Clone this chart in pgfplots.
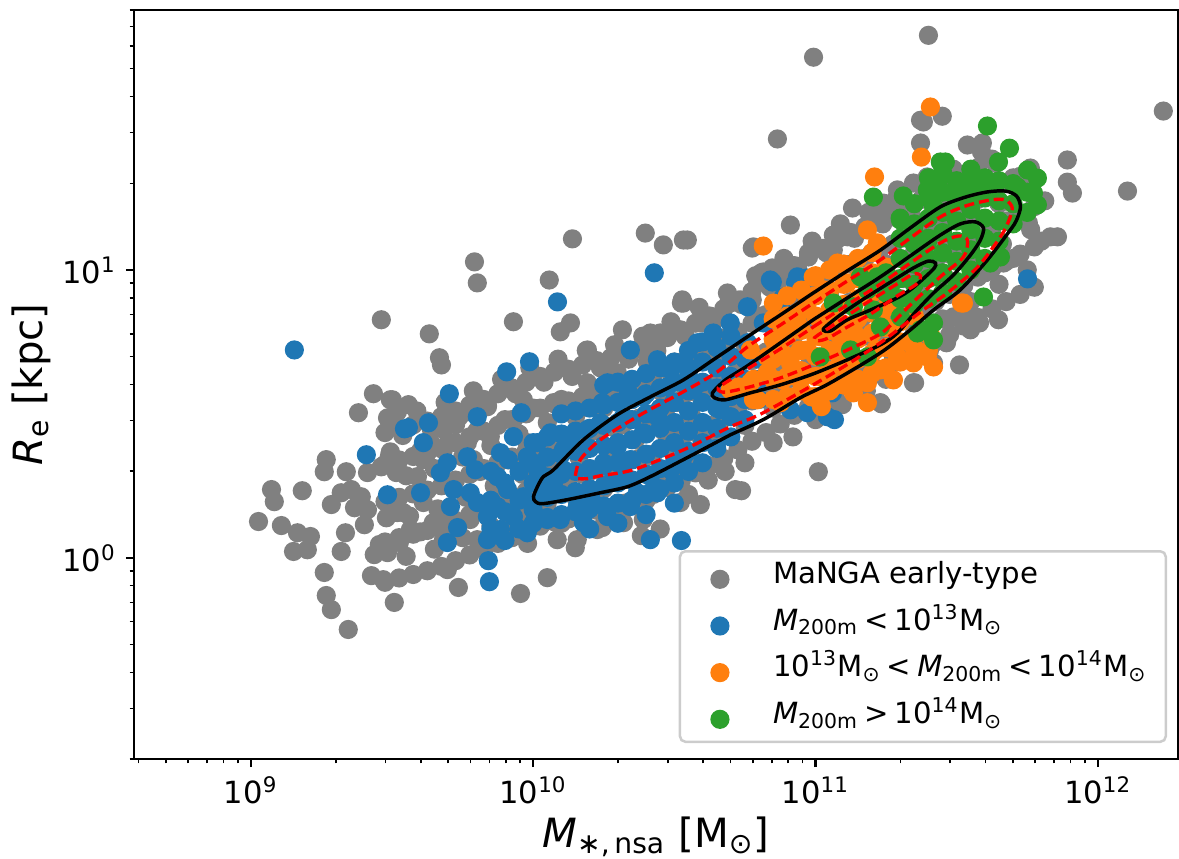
\documentclass[border=0pt]{standalone}
\usepackage{fontspec}
\setmainfont{DejaVu Sans}
\usepackage{pgfplots}
\pgfplotsset{compat=1.18}
\definecolor{mgray}{HTML}{808080}
\definecolor{mblue}{HTML}{1F77B4}
\definecolor{morange}{HTML}{FF7F0E}
\definecolor{mgreen}{HTML}{2CA02C}
\newcommand{\rel}[1]{\hspace{0.2em}#1\hspace{0.2em}}
\newcommand{\msun}{M\textsubscript{⊙}}
\begin{document}
\begin{tikzpicture}
\begin{axis}[
  scale only axis, width=375.84pt, height=269.64pt,
  xmin=8.586, xmax=12.284, ymin=-0.699, ymax=1.903,
  clip marker paths=true,
  axis line style={line width=0.75pt},
  xtick={9,10,11,12},
  xticklabels={10\textsuperscript{9},10\textsuperscript{10},10\textsuperscript{11},10\textsuperscript{12}},
  minor xtick={8.602,8.699,8.778,8.845,8.903,8.954,9.301,9.477,9.602,9.699,9.778,9.845,9.903,9.954,10.301,10.477,10.602,10.699,10.778,10.845,10.903,10.954,11.301,11.477,11.602,11.699,11.778,11.845,11.903,11.954},
  ytick={0,1},
  yticklabels={10\textsuperscript{0},10\textsuperscript{1}},
  minor ytick={-0.699,-0.523,-0.398,-0.301,-0.222,-0.155,-0.097,-0.046,0.301,0.477,0.602,0.699,0.778,0.845,0.903,0.954,1.301,1.477,1.602,1.699,1.778,1.845,1.903},
  xtick pos=bottom, ytick pos=left,
  tick align=outside, major tick length=2.9pt, minor tick length=1.6pt,
  major tick style={line width=0.75pt,black}, minor tick style={line width=0.55pt,black},
  ticklabel style={font=\fontsize{11}{13}\selectfont},
  xlabel={\textit{M}\textsubscript{∗,\,nsa} [\msun]},
  ylabel={\textit{R}\textsubscript{e} [kpc]},
  xlabel style={at={(axis description cs:0.5,-0.1187)}, anchor=base, font=\fontsize{14.5}{17}\selectfont},
  ylabel style={at={(axis description cs:-0.0873,0.5)}, anchor=base, font=\fontsize{14.5}{17}\selectfont},
  legend style={at={(rel axis cs:0.9895,0.0213)}, anchor=south east,
    draw=black!20, line width=0.9pt, fill=white, rounded corners=2pt,
    font=\fontsize{10.5}{12.6}\selectfont,
    inner xsep=6.8pt, inner ysep=3.6pt, row sep=5.8pt, column sep=0pt,
    nodes={inner sep=0pt, text height=8pt, text depth=3pt}},
  legend cell align=left,
  legend image code/.code={\draw[#1] plot coordinates {(0pt,-1pt)}; \path[draw=none,fill=none] (-7.6pt,0pt) -- (19.1pt,0pt);},
]
% ---------------- gray: MaNGA early-type ----------------
\addplot[only marks, mark=*, mark size=3.2pt, line width=0.5pt, color=mgray] coordinates {
(11.400,1.815) (10.993,1.739) (12.232,1.552) (10.865,1.455) (11.892,1.382) (12.105,1.274) (11.892,1.305) (11.910,1.267) (11.857,1.115) (11.754,1.163) (11.832,1.115) (11.761,1.354) (11.591,1.441) (11.538,1.434) (11.449,1.534) (11.372,1.520) (11.372,1.441) (11.666,1.024) (11.648,0.827) (11.549,0.792) (11.489,0.837)
(9.462,0.827) (9.434,0.570) (9.501,0.549) (9.381,0.504) (9.484,0.486) (9.267,0.341) (9.260,0.299) (9.338,0.299) (9.491,0.355) (9.413,0.296) (9.462,0.316) (9.515,0.296) (9.073,0.237) (9.083,0.195) (9.182,0.233) (9.285,0.185) (9.320,0.226) (9.356,0.237) (9.391,0.212) (9.367,0.174) (9.413,0.167) (9.402,0.115) (9.480,0.139) (9.519,0.157) (9.027,0.126) (9.108,0.112) (9.165,0.087) (9.211,0.074) (9.151,0.022) (9.200,0.028) (9.335,0.087) (9.320,0.022) (9.455,0.046) (9.437,0.011) (9.484,0.018) (9.526,0.053) (9.260,-0.051) (9.267,-0.131) (9.285,-0.180) (9.427,-0.062) (9.469,-0.076) (9.508,-0.155) (9.345,-0.249)
(10.139,1.108) (10.397,1.128) (10.461,1.087) (10.532,1.104) (9.792,1.028) (9.802,0.955) (10.057,0.965) (9.930,0.820) (10.132,0.816) (10.096,0.785) (9.632,0.778) (9.668,0.695) (9.675,0.670) (10.192,0.722) (10.316,0.792) (10.415,0.781) (10.450,0.781) (10.525,0.885) (10.521,0.792) (10.249,0.663) (10.298,0.643) (10.192,0.608) (10.220,0.559) (10.404,0.681) (9.494,0.549) (9.558,0.532) (9.519,0.507) (9.767,0.507) (9.838,0.525) (9.965,0.549) (10.072,0.539) (10.132,0.539) (9.930,0.480) (9.725,0.462) (9.682,0.445) (9.494,0.368) (9.519,0.330) (9.611,0.341) (9.590,0.282) (9.636,0.400) (9.813,0.445) (9.848,0.421) (9.767,0.400) (9.682,0.375) (9.788,0.341) (9.979,0.400) (10.015,0.330) (10.050,0.306) (9.494,0.192) (9.540,0.157) (9.611,0.192) (9.646,0.122) (9.565,0.098) (9.682,0.063) (9.777,0.133) (9.802,0.063) (9.894,0.098) (9.954,0.157) (10.036,0.122) (10.085,0.063) (10.156,0.063) (10.227,0.098) (10.320,0.122) (10.390,0.133) (10.521,0.192) (10.521,0.400) (10.486,0.445) (10.390,0.490)
(11.382,1.514) (11.131,1.215) (10.911,1.156) (10.546,1.104) (10.780,1.080) (10.975,1.059) (10.815,0.993) (10.929,1.010) (10.794,0.965) (10.865,0.955) (10.734,0.896) (10.698,0.885) (10.532,0.885) (10.638,0.827) (10.592,0.816) (10.557,0.747) (11.113,1.115) (11.063,1.069) (11.205,1.184) (11.241,1.232) (11.290,1.278) (11.347,1.302) (11.396,1.323) (11.276,1.184) (11.347,0.608) (11.230,0.539) (11.418,0.677)
(10.776,1.076) (10.847,1.007) (10.808,0.990) (10.798,0.962) (10.528,0.896) (10.695,0.896) (10.776,0.896) (11.063,1.121)
(11.351,0.608) (11.510,0.670) (11.581,0.816) (11.528,0.861) (11.464,0.747) (11.404,0.722) (11.276,0.698) (11.148,0.663) (11.085,0.608)
(9.696,-0.041) (9.735,-0.103) (9.955,-0.124) (10.050,-0.069) (10.149,0.035) (10.245,0.105) (10.383,0.077) (10.592,0.185) (10.716,0.237) (10.738,0.233) (11.010,0.299) (11.095,0.532) (11.233,0.535)
(10.30,0.15) (10.40,0.20) (10.45,0.10) (10.55,0.22) (10.20,0.18) (10.10,0.12) (9.98,0.05) (10.62,0.27) (10.68,0.30) (10.75,0.33) (10.85,0.40) (10.92,0.42) (11.00,0.48) (11.05,0.52) (11.18,0.58) (11.25,0.62)
(9.550,0.005) (9.562,0.145) (9.550,0.285) (9.538,0.425)
(9.600,0.09) (9.612,0.23) (9.600,0.37) (9.588,0.51)
(9.650,0.03) (9.662,0.17) (9.650,0.31) (9.638,0.45)
(9.700,0.12) (9.712,0.26) (9.700,0.40) (9.688,0.54)
(9.750,0.07) (9.762,0.21) (9.750,0.35) (9.738,0.49)
(9.800,0.16) (9.812,0.30) (9.800,0.44) (9.788,0.58)
(9.850,0.11) (9.862,0.25) (9.850,0.39) (9.838,0.53)
(9.900,0.20) (9.912,0.34) (9.900,0.48) (9.888,0.62)
(9.950,0.15) (9.962,0.29) (9.950,0.43) (9.938,0.57)
(10.000,0.24) (10.012,0.38) (10.000,0.52) (9.988,0.66)
(10.050,0.19) (10.062,0.33) (10.050,0.47) (10.038,0.61)
(10.100,0.27) (10.112,0.41) (10.100,0.55) (10.088,0.69)
(10.150,0.21) (10.162,0.35) (10.150,0.49) (10.138,0.63)
(10.200,0.30) (10.212,0.44) (10.200,0.58) (10.188,0.72)
(10.250,0.24) (10.262,0.38) (10.250,0.52) (10.238,0.66)
(10.300,0.32) (10.312,0.46) (10.300,0.60) (10.288,0.74)
(10.350,0.27) (10.362,0.41) (10.350,0.55) (10.338,0.69)
(10.400,0.35) (10.412,0.49) (10.400,0.63) (10.388,0.77)
(10.450,0.30) (10.462,0.44) (10.450,0.58) (10.438,0.72)
(10.500,0.40) (10.512,0.54) (10.500,0.68) (10.488,0.82)
(10.550,0.35) (10.562,0.49) (10.550,0.63) (10.538,0.77)
(10.600,0.45) (10.612,0.59) (10.600,0.73) (10.588,0.87)
(10.650,0.40) (10.662,0.54) (10.650,0.68) (10.638,0.82)
(10.700,0.50) (10.712,0.64) (10.700,0.78) (10.688,0.92)
(10.750,0.46) (10.762,0.60) (10.750,0.74) (10.738,0.88)
(10.800,0.56) (10.812,0.70) (10.800,0.84) (10.788,0.98)
(10.850,0.52) (10.862,0.66) (10.850,0.80) (10.838,0.94)
(10.900,0.62) (10.912,0.76) (10.900,0.90) (10.888,1.04)
(10.950,0.58) (10.962,0.72) (10.950,0.86) (10.938,1.00)
(11.000,0.68) (11.012,0.82) (11.000,0.96) (10.988,1.10)
(11.050,0.64) (11.062,0.78) (11.050,0.92) (11.038,1.06)
(11.100,0.74) (11.112,0.88) (11.100,1.02) (11.088,1.16)
(11.150,0.69) (11.162,0.83) (11.150,0.97) (11.138,1.11)
(11.200,0.78) (11.212,0.92) (11.200,1.06) (11.188,1.20)
(11.250,0.74) (11.262,0.88) (11.250,1.02) (11.238,1.16)
(11.300,0.83) (11.312,0.97) (11.300,1.11) (11.288,1.25)
(11.350,0.78) (11.362,0.92) (11.350,1.06) (11.338,1.20)
(11.400,0.88) (11.412,1.02) (11.400,1.16) (11.388,1.30)
(11.450,0.83) (11.462,0.97) (11.450,1.11) (11.438,1.25)
(11.500,0.93) (11.512,1.07) (11.500,1.21) (11.488,1.35)
(11.550,0.89) (11.562,1.03) (11.550,1.17) (11.538,1.31)
(11.600,0.99) (11.612,1.13) (11.600,1.27) (11.588,1.41)
(11.650,0.95) (11.662,1.09) (11.650,1.23) (11.638,1.37)
(11.700,1.04) (11.712,1.18) (11.700,1.32)
(11.750,1.00) (11.762,1.14) (11.750,1.28)
(11.800,1.10) (11.812,1.24)
(9.475,-0.085) (9.475,0.055) (9.475,0.195) (9.475,0.325) (9.475,0.435)
(9.525,-0.07) (9.525,0.07) (9.525,0.21) (9.525,0.34) (9.525,0.45)
(9.575,-0.058) (9.575,0.082) (9.575,0.222) (9.575,0.352) (9.575,0.462)
(9.625,-0.045) (9.625,0.095) (9.625,0.235) (9.625,0.365) (9.625,0.475)
(9.675,-0.03) (9.675,0.11) (9.675,0.25) (9.675,0.38) (9.675,0.49)
(9.725,-0.01) (9.725,0.13) (9.725,0.27) (9.725,0.40) (9.725,0.51)
(9.775,0.01) (9.775,0.15) (9.775,0.29) (9.775,0.42) (9.775,0.53)
(9.825,0.03) (9.825,0.17) (9.825,0.31) (9.825,0.44) (9.825,0.55)
(9.875,0.05) (9.875,0.19) (9.875,0.33) (9.875,0.46) (9.875,0.57)
(9.925,0.07) (9.925,0.21) (9.925,0.35) (9.925,0.48) (9.925,0.59)
(9.975,0.09) (9.975,0.23) (9.975,0.37) (9.975,0.50) (9.975,0.61)
(10.025,0.11) (10.025,0.25) (10.025,0.39) (10.025,0.52) (10.025,0.63)
(10.075,0.125) (10.075,0.265) (10.075,0.405) (10.075,0.535) (10.075,0.645)
(10.125,0.135) (10.125,0.275) (10.125,0.415) (10.125,0.545) (10.125,0.655)
(10.175,0.15) (10.175,0.29) (10.175,0.43) (10.175,0.56) (10.175,0.67)
(10.225,0.165) (10.225,0.305) (10.225,0.445) (10.225,0.575) (10.225,0.685)
(10.275,0.175) (10.275,0.315) (10.275,0.455) (10.275,0.585) (10.275,0.695)
(10.325,0.19) (10.325,0.33) (10.325,0.47) (10.325,0.60) (10.325,0.71)
(10.375,0.205) (10.375,0.345) (10.375,0.485) (10.375,0.615) (10.375,0.725)
(10.425,0.22) (10.425,0.36) (10.425,0.50) (10.425,0.63) (10.425,0.74)
(10.475,0.245) (10.475,0.385) (10.475,0.525) (10.475,0.655) (10.475,0.765)
(10.525,0.27) (10.525,0.41) (10.525,0.55) (10.525,0.68) (10.525,0.79)
(10.575,0.295) (10.575,0.435) (10.575,0.575) (10.575,0.705) (10.575,0.815)
(10.625,0.32) (10.625,0.46) (10.625,0.60) (10.625,0.73) (10.625,0.84)
(10.675,0.345) (10.675,0.485) (10.675,0.625) (10.675,0.755) (10.675,0.865)
(10.725,0.375) (10.725,0.515) (10.725,0.655) (10.725,0.785) (10.725,0.895)
(10.775,0.405) (10.775,0.545) (10.775,0.685) (10.775,0.815) (10.775,0.925)
(10.825,0.435) (10.825,0.575) (10.825,0.715) (10.825,0.845) (10.825,0.955)
(10.875,0.465) (10.875,0.605) (10.875,0.745) (10.875,0.875) (10.875,0.985)
(10.925,0.495) (10.925,0.635) (10.925,0.775) (10.925,0.905) (10.925,1.015)
(10.975,0.525) (10.975,0.665) (10.975,0.805) (10.975,0.935) (10.975,1.045)
(11.025,0.555) (11.025,0.695) (11.025,0.835) (11.025,0.965) (11.025,1.075)
(11.075,0.585) (11.075,0.725) (11.075,0.865) (11.075,0.995) (11.075,1.105)
(11.125,0.61) (11.125,0.75) (11.125,0.89) (11.125,1.02) (11.125,1.13)
(11.175,0.63) (11.175,0.77) (11.175,0.91) (11.175,1.04) (11.175,1.15)
(11.225,0.655) (11.225,0.795) (11.225,0.935) (11.225,1.065) (11.225,1.175)
(11.275,0.68) (11.275,0.82) (11.275,0.96) (11.275,1.09) (11.275,1.20)
(11.325,0.70) (11.325,0.84) (11.325,0.98) (11.325,1.11) (11.325,1.22)
(11.375,0.725) (11.375,0.865) (11.375,1.005) (11.375,1.135) (11.375,1.245)
(11.425,0.75) (11.425,0.89) (11.425,1.03) (11.425,1.16) (11.425,1.27)
(11.475,0.775) (11.475,0.915) (11.475,1.055) (11.475,1.185) (11.475,1.295)
(11.525,0.805) (11.525,0.945) (11.525,1.085) (11.525,1.215) (11.525,1.325)
(11.575,0.835) (11.575,0.975) (11.575,1.115) (11.575,1.245) (11.575,1.355)
(11.625,0.865) (11.625,1.005) (11.625,1.145) (11.625,1.275) (11.625,1.385)
(11.675,0.89) (11.675,1.03) (11.675,1.17) (11.675,1.30)
(11.725,0.915) (11.725,1.055) (11.725,1.195) (11.725,1.325)
(11.775,0.94) (11.775,1.08) (11.775,1.22)
};
\addlegendentry{MaNGA early-type}
% ---------------- blue ----------------
\addplot[only marks, mark=*, mark size=3.2pt, line width=0.5pt, color=mblue] coordinates {
(9.154,0.722) (9.544,0.448) (9.409,0.358) (9.484,0.219) (10.429,0.990) (10.086,0.889) (10.344,0.722) (9.987,0.681) (9.906,0.646) (9.703,0.570) (9.558,0.452) (9.629,0.469) (9.611,0.400) (9.802,0.490) (9.958,0.504) (10.263,0.608) (10.337,0.573) (10.440,0.688) (10.486,0.653) (10.245,0.539) (10.192,0.445) (10.061,0.434) (10.132,0.410) (9.930,0.421) (9.884,0.365) (9.912,0.341) (9.767,0.351) (9.696,0.330) (9.671,0.296) (9.795,0.306) (9.979,0.351) (10.015,0.400) (10.015,0.306) (9.873,0.282) (9.909,0.237) (9.718,0.237) (9.777,0.226) (9.802,0.192) (9.707,0.178) (9.601,0.226) (9.838,0.143) (9.873,0.178) (9.884,0.098) (9.732,0.105) (9.696,0.053) (9.838,0.063) (9.930,0.143) (9.965,0.212) (9.979,0.087) (10.000,0.167) (10.036,0.237) (10.072,0.261) (10.107,0.306) (10.050,0.133) (10.096,0.133) (10.156,0.178) (10.203,0.212) (10.273,0.261) (10.320,0.282) (10.369,0.226) (10.344,0.178) (10.263,0.143) (10.178,0.122) (10.415,0.282) (10.440,0.226) (10.486,0.306) (10.532,0.351) (10.415,0.063) (10.344,0.341) (10.249,0.330) (10.298,0.386) (10.390,0.434) (10.440,0.490) (10.497,0.539) (10.546,0.594) (10.475,0.594) (10.390,0.559) (10.320,0.490) (10.238,0.469) (10.178,0.375) (10.107,0.375) (10.203,0.306)
(9.841,-0.010) (9.845,-0.083) (10.525,0.060) (11.751,0.969)
(10.840,0.965) (10.936,0.976) (10.847,0.958) (10.929,0.955) (10.968,0.972) (11.067,0.480) (11.060,0.573) (10.971,0.504)
(10.759,0.872) (10.698,0.816) (10.638,0.781) (10.581,0.747) (10.546,0.663) (10.567,0.584) (10.663,0.514) (10.876,0.872) (10.815,0.816) (10.759,0.747) (10.886,0.906) (11.042,0.490) (10.911,0.514)
(9.85,0.10) (9.85,0.20) (9.85,0.30) (9.90,0.06) (9.90,0.16) (9.90,0.26) (9.95,0.10) (9.95,0.20) (9.95,0.30)
(10.00,0.12) (10.00,0.19) (10.00,0.26) (10.00,0.33) (10.00,0.40)
(10.05,0.14) (10.05,0.21) (10.05,0.28) (10.05,0.35) (10.05,0.42)
(10.10,0.15) (10.10,0.22) (10.10,0.29) (10.10,0.36) (10.10,0.43) (10.10,0.50)
(10.15,0.16) (10.15,0.23) (10.15,0.30) (10.15,0.37) (10.15,0.44) (10.15,0.51)
(10.20,0.10) (10.20,0.17) (10.20,0.24) (10.20,0.31) (10.20,0.38) (10.20,0.45) (10.20,0.52)
(10.25,0.18) (10.25,0.25) (10.25,0.32) (10.25,0.39) (10.25,0.46) (10.25,0.53) (10.25,0.60)
(10.30,0.12) (10.30,0.19) (10.30,0.26) (10.30,0.33) (10.30,0.40) (10.30,0.47) (10.30,0.54) (10.30,0.61)
(10.35,0.20) (10.35,0.27) (10.35,0.34) (10.35,0.41) (10.35,0.48) (10.35,0.55) (10.35,0.62)
(10.40,0.15) (10.40,0.22) (10.40,0.29) (10.40,0.36) (10.40,0.43) (10.40,0.50) (10.40,0.57) (10.40,0.64)
(10.45,0.24) (10.45,0.31) (10.45,0.38) (10.45,0.45) (10.45,0.52) (10.45,0.59) (10.45,0.66)
(10.50,0.19) (10.50,0.26) (10.50,0.33) (10.50,0.40) (10.50,0.47) (10.50,0.54) (10.50,0.61) (10.50,0.68)
(10.55,0.30) (10.55,0.37) (10.55,0.44) (10.55,0.51) (10.55,0.58) (10.55,0.65) (10.55,0.72)
(10.60,0.33) (10.60,0.40) (10.60,0.47) (10.60,0.54) (10.60,0.61) (10.60,0.68) (10.60,0.75)
(10.65,0.38) (10.65,0.45) (10.65,0.52) (10.65,0.59) (10.65,0.66) (10.65,0.73)
(10.70,0.42) (10.70,0.49) (10.70,0.56) (10.70,0.63) (10.70,0.70) (10.70,0.77)
(10.75,0.48) (10.75,0.55) (10.75,0.62) (10.75,0.69)
(10.80,0.55) (10.80,0.62) (10.80,0.69)
};
\addlegendentry{\textit{M}\textsubscript{200m}\rel{<}10\textsuperscript{13}\msun}
% ---------------- orange ----------------
\addplot[only marks, mark=*, mark size=3.2pt, line width=0.5pt, color=morange] coordinates {
(11.407,1.566) (11.375,1.392) (11.209,1.323) (10.815,1.083) (11.524,0.885) (11.407,0.774)
(11.184,1.139) (11.219,1.094) (11.078,1.024) (10.992,0.976) (11.028,0.931) (11.113,0.955) (10.971,0.885) (10.936,0.816) (10.876,0.816) (11.017,0.827) (11.063,0.816) (10.876,0.747) (10.829,0.698) (10.769,0.722) (10.911,0.677) (10.971,0.722) (11.017,0.768) (11.088,0.768) (11.134,0.792) (10.946,0.618) (11.017,0.629) (11.088,0.677) (11.113,0.643) (11.053,0.584) (11.134,0.573) (11.184,0.608) (11.230,0.653) (11.290,0.698) (11.347,0.733) (11.184,0.539) (11.276,0.618) (11.347,0.677) (11.396,0.698) (11.418,0.663) (10.727,0.594) (10.794,0.549) (10.876,0.539) (11.017,0.539) (10.829,0.643) (10.769,0.608) (10.851,0.885) (11.230,0.837)
(10.986,0.559) (11.021,0.525) (11.212,0.722) (11.404,0.774) (11.517,0.885) (10.883,0.618) (10.946,0.722) (10.858,0.722) (10.698,0.584)
(10.78,0.55) (10.78,0.62)
(10.85,0.55) (10.85,0.62) (10.85,0.69) (10.85,0.76) (10.85,0.83)
(10.90,0.56) (10.90,0.63) (10.90,0.70) (10.90,0.77) (10.90,0.84) (10.90,0.91)
(10.95,0.58) (10.95,0.65) (10.95,0.72) (10.95,0.79) (10.95,0.86) (10.95,0.93)
(11.00,0.56) (11.00,0.63) (11.00,0.70) (11.00,0.77) (11.00,0.84) (11.00,0.91) (11.00,0.98)
(11.05,0.58) (11.05,0.65) (11.05,0.72) (11.05,0.79) (11.05,0.86) (11.05,0.93) (11.05,1.00)
(11.10,0.60) (11.10,0.67) (11.10,0.74) (11.10,0.81) (11.10,0.88) (11.10,0.95) (11.10,1.02)
(11.15,0.62) (11.15,0.69) (11.15,0.76) (11.15,0.83) (11.15,0.90) (11.15,0.97) (11.15,1.04)
(11.20,0.64) (11.20,0.71) (11.20,0.78) (11.20,0.85) (11.20,0.92) (11.20,0.99) (11.20,1.06)
(11.25,0.66) (11.25,0.73) (11.25,0.80) (11.25,0.87) (11.25,0.94) (11.25,1.01)
(11.30,0.68) (11.30,0.75) (11.30,0.82) (11.30,0.89)
(11.35,0.70) (11.35,0.77) (11.35,0.84)
(11.40,0.72) (11.40,0.79)
};
\addlegendentry{10\textsuperscript{13}\msun\rel{<}\textit{M}\textsubscript{200m}\rel{<}10\textsuperscript{14}\msun}
% ---------------- green ----------------
\addplot[only marks, mark=*, mark size=3.2pt, line width=0.5pt, color=mgreen] coordinates {
(11.311,1.257) (11.442,1.375) (11.396,1.278) (11.418,1.219) (11.301,1.173) (11.347,1.139) (11.396,1.094) (11.372,1.045) (11.418,0.976) (11.159,0.976) (11.219,0.976) (11.265,0.941) (11.184,0.931) (11.134,0.872) (11.205,0.861) (11.230,0.802) (11.301,0.837) (11.347,0.906) (11.361,0.781) (11.063,0.885) (11.017,0.698) (11.124,0.722) (11.184,0.698) (11.418,0.816) (11.418,0.757)
(11.609,1.500) (11.687,1.423) (11.460,1.375) (11.648,1.375) (11.751,1.347) (11.786,1.319) (11.715,1.288) (11.772,1.267) (11.786,1.226) (11.435,1.305) (11.503,1.288) (11.549,1.312) (11.609,1.288) (11.655,1.045) (11.595,0.906) (11.619,1.024) (11.372,0.792) (11.538,1.243) (11.205,1.253)
(11.25,0.92) (11.25,0.99)
(11.30,0.90) (11.30,0.97) (11.30,1.04) (11.30,1.11) (11.30,1.18)
(11.35,0.88) (11.35,0.95) (11.35,1.02) (11.35,1.09) (11.35,1.16) (11.35,1.23)
(11.40,0.90) (11.40,0.97) (11.40,1.04) (11.40,1.11) (11.40,1.18) (11.40,1.25) (11.40,1.32)
(11.45,0.92) (11.45,0.99) (11.45,1.06) (11.45,1.13) (11.45,1.20) (11.45,1.27) (11.45,1.34)
(11.50,0.96) (11.50,1.03) (11.50,1.10) (11.50,1.17) (11.50,1.24) (11.50,1.31)
(11.55,1.00) (11.55,1.07) (11.55,1.14) (11.55,1.21) (11.55,1.28) (11.55,1.35)
(11.60,1.04) (11.60,1.11) (11.60,1.18) (11.60,1.25) (11.60,1.32)
(11.65,1.10) (11.65,1.17) (11.65,1.24) (11.65,1.31)
(11.70,1.16) (11.70,1.23) (11.70,1.30)
(11.75,1.20) (11.75,1.27)
};
\addlegendentry{\textit{M}\textsubscript{200m}\rel{>}10\textsuperscript{14}\msun}
% ---------------- contours ----------------
\addplot[black, line width=1.25pt, smooth, tension=0.5, forget plot] coordinates {
(10.992,0.920) (11.113,0.997) (11.230,1.069) (11.336,1.146) (11.442,1.219) (11.531,1.253) (11.609,1.271) (11.673,1.274) (11.712,1.257) (11.726,1.219) (11.712,1.173) (11.690,1.139) (11.609,1.035) (11.513,0.931) (11.418,0.861) (11.336,0.792) (11.230,0.712) (11.053,0.608) (10.946,0.556) (10.815,0.480) (10.698,0.427) (10.652,0.403) (10.532,0.341) (10.415,0.282) (10.334,0.247) (10.238,0.226) (10.121,0.202) (10.033,0.188) (10.008,0.195) (10.001,0.212) (10.015,0.247) (10.036,0.282) (10.072,0.306) (10.178,0.410) (10.298,0.497) (10.415,0.559) (10.532,0.618) (10.638,0.688) (10.759,0.768) (10.876,0.844) (10.992,0.920)
};
\addplot[black, line width=1.25pt, smooth, tension=0.5, forget plot] coordinates {
(10.992,0.827) (11.113,0.903) (11.230,0.976) (11.336,1.049) (11.442,1.121) (11.513,1.160) (11.566,1.167) (11.595,1.146) (11.584,1.104) (11.549,1.052) (11.489,0.983) (11.418,0.920) (11.354,0.854) (11.290,0.781) (11.230,0.740) (11.113,0.688) (10.992,0.639) (10.876,0.601) (10.769,0.573) (10.681,0.549) (10.642,0.556) (10.635,0.573) (10.681,0.618) (10.759,0.667) (10.876,0.747) (10.992,0.827)
};
\addplot[black, line width=1.25pt, smooth, tension=0.5, forget plot] coordinates {
(11.170,0.899) (11.266,0.958) (11.347,1.007) (11.400,1.031) (11.425,1.024) (11.421,1.007) (11.389,0.976) (11.340,0.934) (11.290,0.903) (11.195,0.861) (11.113,0.827) (11.053,0.788) (11.028,0.795) (11.088,0.844) (11.170,0.899)
};
\addplot[red, line width=1.2pt, dash pattern=on 3.6pt off 1.8pt, smooth, tension=0.5, forget plot] coordinates {
(10.992,0.885) (11.113,0.962) (11.230,1.035) (11.336,1.111) (11.442,1.184) (11.531,1.222) (11.620,1.243) (11.673,1.243) (11.697,1.215) (11.683,1.167) (11.655,1.115) (11.574,1.010) (11.467,0.920) (11.372,0.854) (11.230,0.747) (11.053,0.636) (10.815,0.504) (10.698,0.455) (10.532,0.375) (10.355,0.306) (10.238,0.285) (10.192,0.275) (10.160,0.275) (10.149,0.282) (10.167,0.341) (10.238,0.410) (10.380,0.497) (10.532,0.577) (10.652,0.646) (10.759,0.733) (10.876,0.809) (10.992,0.885)
};
\addplot[red, line width=1.2pt, dash pattern=on 3.6pt off 1.8pt, smooth, tension=0.5, forget plot] coordinates {
(10.992,0.802) (11.113,0.879) (11.230,0.951) (11.336,1.024) (11.442,1.094) (11.506,1.118) (11.538,1.104) (11.524,1.045) (11.442,0.976) (11.354,0.896) (11.290,0.833) (11.230,0.778) (11.113,0.722) (10.992,0.670) (10.876,0.625) (10.769,0.594) (10.691,0.577) (10.663,0.577) (10.656,0.591) (10.700,0.620) (10.759,0.656) (10.876,0.726) (10.992,0.802)
};
\addplot[red, line width=1.2pt, dash pattern=on 3.6pt off 1.8pt, smooth, tension=0.5, forget plot] coordinates {
(11.170,0.879) (11.283,0.948) (11.347,0.986) (11.372,0.979) (11.358,0.951) (11.290,0.910) (11.195,0.847) (11.113,0.802) (11.046,0.764) (11.010,0.754) (10.996,0.764) (11.053,0.802) (11.170,0.879)
};
\end{axis}
\pgfresetboundingbox
\useasboundingbox ([xshift=-48.24pt,yshift=-35.64pt]current axis.south west) rectangle ([xshift=0.36pt,yshift=3.6pt]current axis.north east);
\end{tikzpicture}
\end{document}
